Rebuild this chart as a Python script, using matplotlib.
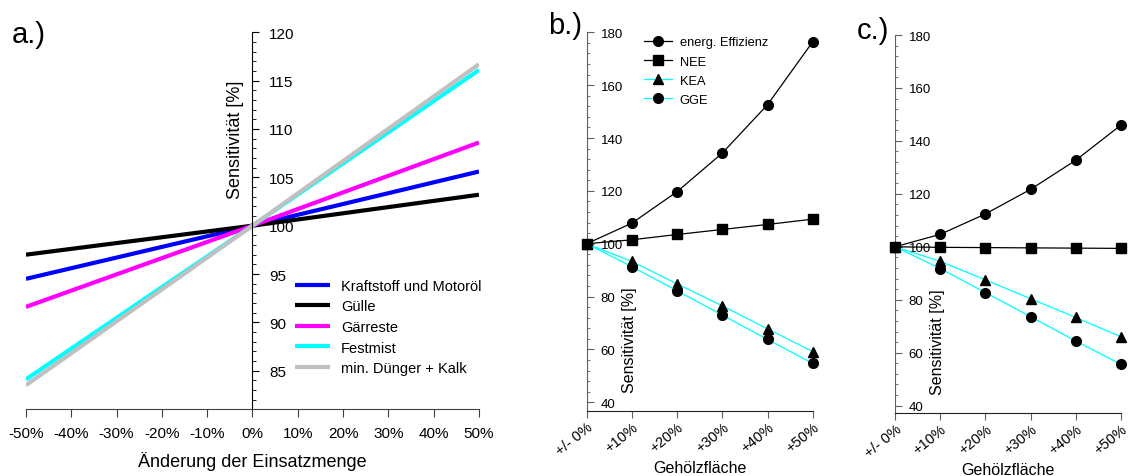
import matplotlib.pyplot as plt
from matplotlib.ticker import AutoMinorLocator

plt.rcParams['font.family'] = ['Liberation Sans', 'DejaVu Sans']

# panel a: sensitivity vs. change of input quantity
change = [-50, 0, 50]
a_series = [
    ("Kraftstoff und Motoröl", "#0000ff", [94.5, 100, 105.6]),
    ("Gülle", "#000000", [97.0, 100, 103.2]),
    ("Gärreste", "#ff00ff", [91.6, 100, 108.6]),
    ("Festmist", "#00ffff", [84.1, 100, 116.1]),
    ("min. Dünger + Kalk", "#c0c0c0", [83.5, 100, 116.7]),
]
a_ticks = [-50, -40, -30, -20, -10, 0, 10, 20, 30, 40, 50]
a_ticklabels = [f"{t}%" for t in a_ticks]

# panels b and c: sensitivity vs. woody area
area = [0, 10, 20, 30, 40, 50]
area_labels = ["+/- 0%", "+10%", "+20%", "+30%", "+40%", "+50%"]

b_eff = [100, 107.8, 119.7, 134.3, 152.6, 176.4]
b_nee = [100, 101.5, 103.5, 105.4, 107.3, 109.3]
b_kea = [100, 93.3, 84.8, 76.5, 67.8, 59.2]
b_gge = [100, 91.3, 82.2, 73.0, 63.8, 54.7]

c_eff = [100, 104.7, 112.4, 121.7, 132.7, 146.0]
c_nee = [100, 99.8, 99.7, 99.6, 99.5, 99.4]
c_kea = [100, 94.5, 87.5, 80.4, 73.3, 66.0]
c_gge = [100, 91.8, 82.7, 73.6, 64.4, 55.6]

fig = plt.figure(figsize=(11.28, 4.77), dpi=100)

# ---------- a.) ----------
ax = fig.add_axes([0.0230, 0.1405, 0.4016, 0.7897])
for name, col, vals in a_series:
    ax.plot(change, vals, color=col, lw=3, label=name, solid_capstyle='butt')
ax.set_xlim(-50, 50)
ax.set_ylim(81.04, 120)
ax.spines['top'].set_visible(False)
ax.spines['right'].set_visible(False)
ax.spines['left'].set_position(('data', 0))
ax.spines['bottom'].set_color('#404040')
ax.set_xticks(a_ticks)
ax.set_xticklabels(a_ticklabels, fontsize=11)
ax.tick_params(axis='x', direction='out', length=6, color='#404040', pad=6)
ax.set_yticks([85, 90, 95, 100, 105, 110, 115, 120])
ax.yaxis.set_minor_locator(AutoMinorLocator(5))
ax.tick_params(axis='y', which='both', direction='in', labelsize=11, pad=-12)
ax.tick_params(axis='y', which='major', length=5)
ax.tick_params(axis='y', which='minor', length=3)
for lab in ax.get_yticklabels():
    lab.set_horizontalalignment('left')
ax.set_xlabel("Änderung der Einsatzmenge", fontsize=13, labelpad=8)
ax.text(-1.8, 109.0, "Sensitivität [%]", rotation=90, fontsize=13, ha='right', va='center')
ax.legend(loc='lower right', bbox_to_anchor=(1.035, 0.055), frameon=False, fontsize=10.5,
          handlelength=2.4, handletextpad=0.8, labelspacing=0.45)
fig.text(0.010, 0.927, "a.)", fontsize=21, va='center')


def small_panel(rect, eff, nee, kea, gge, ylow, label, label_y, legend):
    ax = fig.add_axes(rect)
    ax.plot(area, eff, color='black', lw=0.9, marker='o', ms=7, label="energ. Effizienz", clip_on=False, zorder=3)
    ax.plot(area, nee, color='black', lw=0.9, marker='s', ms=6.5, label="NEE", clip_on=False, zorder=3)
    ax.plot(area, kea, color='#00ffff', lw=0.9, marker='^', ms=7, mfc='black', mec='black',
            label="KEA", clip_on=False, zorder=3)
    ax.plot(area, gge, color='#00ffff', lw=0.9, marker='o', ms=7, mfc='black', mec='black',
            label="GGE", clip_on=False, zorder=3)
    ax.set_xlim(0, 50)
    ax.set_ylim(ylow, 180)
    ax.spines['top'].set_visible(False)
    ax.spines['right'].set_visible(False)
    ax.spines['left'].set_color('#606060')
    ax.spines['bottom'].set_color('#202020')
    ax.set_xticks(area)
    ax.set_xticklabels(area_labels, fontsize=10.5, rotation=39, ha='right', rotation_mode='anchor')
    ax.tick_params(axis='x', direction='out', length=5, color='#606060', pad=1)
    ax.set_yticks([40, 60, 80, 100, 120, 140, 160, 180])
    ax.yaxis.set_minor_locator(AutoMinorLocator(5))
    ax.tick_params(axis='y', which='both', direction='in', color='#606060', labelsize=9.5, pad=-10)
    ax.tick_params(axis='y', which='major', length=5)
    ax.tick_params(axis='y', which='minor', length=2.5)
    for lab in ax.get_yticklabels():
        lab.set_horizontalalignment('left')
    ax.set_xlabel("Gehölzfläche", fontsize=11.5, labelpad=2)
    ax.text(0.19, 0.19, "Sensitivität [%]", transform=ax.transAxes, rotation=90,
            fontsize=11.5, ha='center', va='center')
    if legend:
        ax.legend(loc='upper left', bbox_to_anchor=(0.2, 1.02), frameon=False, fontsize=9.3,
                  handlelength=2.2, handletextpad=0.6, labelspacing=0.55)
    fig.text(rect[0] - 0.034, label_y, label, fontsize=21, va='center')
    return ax


small_panel([0.5201, 0.1356, 0.2004, 0.7946], b_eff, b_nee, b_kea, b_gge, 36.6, "b.)", 0.945, True)
small_panel([0.7934, 0.1314, 0.2004, 0.7931], c_eff, c_nee, c_kea, c_gge, 37.1, "c.)", 0.935, False)

fig.savefig("out.png", dpi=100)
